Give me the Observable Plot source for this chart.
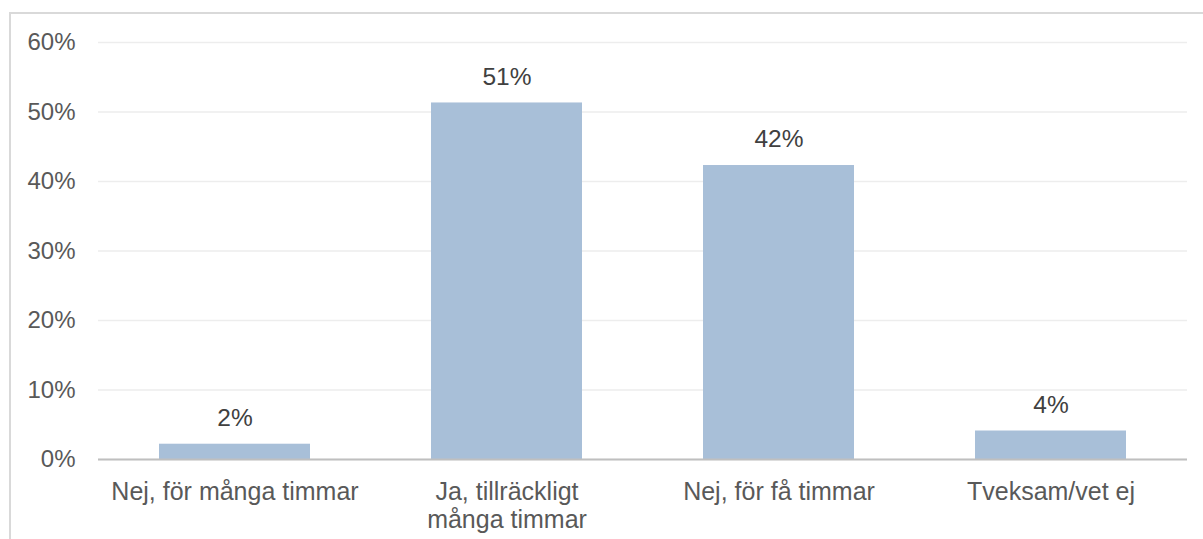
<!DOCTYPE html>
<html>
<head>
<meta charset="utf-8">
<script src="https://cdn.jsdelivr.net/npm/d3@7"></script>
<script src="https://cdn.jsdelivr.net/npm/@observablehq/plot@0.6"></script>
<style>
  html, body { margin: 0; padding: 0; background: #fff; }
  #wrap { position: relative; width: 1203px; height: 539px; overflow: hidden; }
  #frame { position: absolute; left: 9px; top: 12px; width: 1300px; height: 600px;
           border-top: 2px solid #d9d9d9; border-left: 2px solid #d9d9d9; box-sizing: border-box; }
  #chart { position: absolute; left: 0; top: 0; }
</style>
</head>
<body>
<div id="wrap"><div id="frame"></div><div id="chart"></div></div>
<script>
const categories = ["Nej, för många timmar", "Ja, tillräckligt\nmånga timmar", "Nej, för få timmar", "Tveksam/vet ej"];
const values = [2.2, 51.3, 42.3, 4.1];
const valueLabels = ["2%", "51%", "42%", "4%"];
const yTicks = [0, 10, 20, 30, 40, 50, 60];

const data = categories.map((c, i) => ({cat: c, v: values[i], lab: valueLabels[i]}));
const font = "Liberation Sans, Arial, sans-serif";

const chart = Plot.plot({
  width: 1203,
  height: 539,
  marginLeft: 98,
  marginRight: 16,
  marginTop: 42,
  marginBottom: 80,
  style: {fontFamily: font, fontSize: "24px", background: "transparent"},
  x: {domain: categories, paddingInner: 0.445, paddingOuter: 0.2225, label: null},
  y: {domain: [0, 60], label: null},
  marks: [
    Plot.gridY(yTicks, {stroke: "#ededed", strokeOpacity: 1, strokeWidth: 1.5}),
    Plot.barY(data, {x: "cat", y: "v", fill: "#a8bfd8"}),
    Plot.ruleY([0], {stroke: "#bfbfbf", strokeWidth: 2}),
    Plot.axisY(yTicks, {tickSize: 0, tickPadding: 23, tickFormat: d => d + "%", fill: "#595959", fontSize: 24}),
    Plot.axisX({tickSize: 0, tickPadding: 21, fill: "#595959", fontSize: 25, lineHeight: 1.12}),
    Plot.text(data, {x: "cat", y: "v", text: "lab", dy: -26, fill: "#404040", fontSize: 24.5})
  ]
});
document.getElementById("chart").appendChild(chart);
</script>
</body>
</html>
